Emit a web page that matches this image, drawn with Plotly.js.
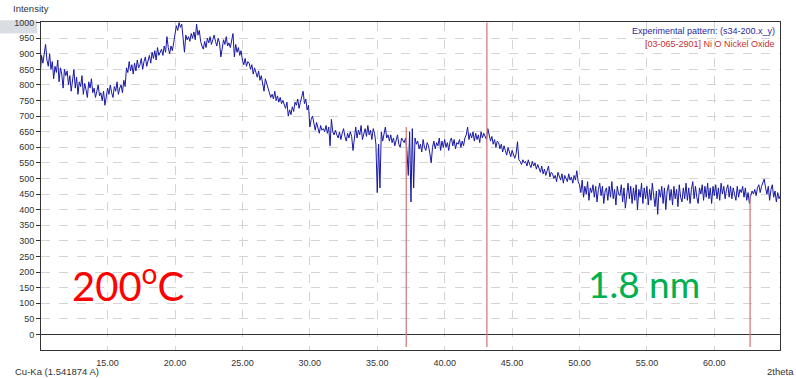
<!DOCTYPE html>
<html>
<head>
<meta charset="utf-8">
<script src="https://cdn.plot.ly/plotly-3.0.1.min.js"></script>
<style>html,body{margin:0;padding:0;background:#fff;}#chart{width:796px;height:378px;}</style>
</head>
<body>
<div id="chart"></div>
<script>
// 2theta sampling of the measured pattern (degrees)
const twoThetaStart = 10.0;
const twoThetaStep = 0.1;
// Measured intensity, one row per degree (10.0 ... 64.9), then 65.0
const intensity = [
  830, 895, 870, 905, 930, 880, 860, 900, 850, 875,
  820, 860, 840, 880, 810, 855, 835, 790, 850, 830,
  845, 800, 830, 780, 815, 850, 790, 825, 770, 810,
  795, 830, 770, 805, 785, 760, 810, 790, 820, 775,
  790, 760, 780, 800, 765, 775, 750, 780, 735, 760,
  790, 770, 800, 775, 760, 795, 780, 810, 770, 790,
  800, 775, 815, 795, 855, 840, 875, 845, 865, 835,
  870, 845, 880, 855, 865, 885, 850, 875, 890, 860,
  875, 895, 870, 905, 885, 910, 880, 920, 895, 905,
  915, 895, 925, 905, 955, 920, 900, 925, 910, 935,
  965, 990, 975, 1000, 985, 995, 950, 905, 960, 945,
  955, 940, 965, 950, 970, 945, 995, 960, 975, 940,
  925, 915, 940, 920, 950, 935, 955, 930, 945, 960,
  940, 925, 950, 935, 890, 920, 945, 930, 955, 925,
  935, 920, 945, 965, 890, 930, 905, 920, 895, 910,
  880, 865, 885, 860, 875, 870, 850, 865, 835, 855,
  840, 825, 845, 815, 830, 810, 780, 820, 800, 790,
  775, 760, 770, 755, 780, 750, 765, 745, 760, 740,
  750, 735, 725, 745, 700, 720, 705, 730, 715, 745,
  735, 755, 725, 745, 760, 780, 740, 755, 720, 735,
  665, 690, 700, 670, 655, 680, 660, 645, 670, 655,
  660, 650, 670, 645, 665, 605, 690, 650, 640, 655,
  640, 630, 650, 625, 645, 660, 635, 620, 645, 630,
  650, 635, 590, 640, 665, 630, 655, 640, 670, 625,
  645, 660, 635, 670, 640, 655, 625, 660, 645, 610,
  455, 610, 470, 650, 620, 645, 665, 630, 640, 620,
  640, 615, 630, 605, 625, 640, 610, 600, 630, 620,
  615, 630, 590, 510, 650, 425, 660, 470, 630, 610,
  620, 595, 610, 585, 625, 600, 590, 615, 605, 580,
  550, 600, 620, 595, 615, 605, 630, 590, 620, 600,
  625, 600, 615, 590, 620, 630, 605, 625, 595, 615,
  610, 625, 600, 620, 605, 630, 640, 665, 625, 645,
  630, 650, 620, 645, 625, 640, 615, 650, 630, 645,
  635, 625, 660, 640, 620, 635, 610, 625, 600, 620,
  615, 595, 610, 585, 605, 590, 575, 600, 580, 570,
  590, 575, 565, 580, 618, 560, 555, 545, 560, 550,
  555, 540, 560, 545, 535, 555, 540, 550, 530, 545,
  535, 520, 540, 515, 530, 510, 525, 540, 505, 520,
  515, 500, 510, 490, 520, 505, 495, 515, 485, 510,
  500, 490, 515, 495, 505, 485, 510, 495, 525, 490,
  480, 455, 495, 440, 475, 450, 490, 430, 470, 455,
  480, 440, 475, 425, 465, 485, 445, 475, 420, 460,
  470, 430, 475, 440, 490, 435, 465, 415, 475, 450,
  445, 480, 425, 470, 405, 460, 485, 435, 475, 420,
  470, 430, 480, 400, 465, 440, 485, 420, 470, 435,
  475, 415, 465, 430, 485, 445, 410, 460, 385, 465,
  440, 475, 420, 470, 400, 460, 480, 430, 465, 415,
  475, 435, 465, 410, 480, 440, 425, 470, 435, 485,
  430, 470, 420, 465, 490, 435, 475, 440, 420, 470,
  450, 480, 430, 475, 440, 485, 435, 470, 420, 475,
  445, 480, 435, 470, 430, 485, 450, 475, 435, 465,
  480, 440, 475, 435, 470, 450, 430, 475, 440, 465,
  455, 475, 440, 470, 430, 455, 420, 445, 460, 450,
  465, 445, 470, 480, 455, 475, 485, 498, 470, 450,
  475, 430, 465, 480, 440, 460, 425, 455, 435, 445,
  440
];
// Reference pattern [03-065-2901] NiO stick positions and heights
const refPositions = [37.15, 43.13, 62.65];
const refHeights = [665, 1000, 445];
const refBase = -40;
const yTicks = [0,50,100,150,200,250,300,350,400,450,500,550,600,650,700,750,800,850,900,950,1000];
const xTicks = [15,20,25,30,35,40,45,50,55,60];

const twoTheta = intensity.map((_, i) => +(twoThetaStart + i * twoThetaStep).toFixed(2));

const traces = [{
  x: twoTheta, y: intensity, type: 'scatter', mode: 'lines',
  line: {color: 'rgb(24,24,165)', width: 1}, showlegend: false, hoverinfo: 'skip'
}];
refPositions.forEach((p, i) => {
  traces.push({
    x: [p, p], y: [refBase, refHeights[i]], type: 'scatter', mode: 'lines',
    line: {color: 'rgb(210,125,125)', width: 1.3}, showlegend: false, hoverinfo: 'skip'
  });
});

const F = 'Liberation Sans, Arial, sans-serif';
const layout = {
  width: 796, height: 378,
  margin: {l: 41, r: 16, t: 22, b: 28, pad: 0},
  paper_bgcolor: '#fff', plot_bgcolor: '#fff',
  showlegend: false,
  xaxis: {
    range: [10.06, 64.87], tickvals: xTicks, ticktext: xTicks.map(v => v.toFixed(2)),
    showgrid: true, gridcolor: '#d4d4d4', griddash: 'dash', gridwidth: 1,
    zeroline: false, showline: true, linecolor: '#333', linewidth: 1, mirror: true,
    ticks: '', tickfont: {family: F, size: 9, color: '#333'}, ticklabelstandoff: 4
  },
  yaxis: {
    range: [-50, 1002], tickvals: yTicks,
    showgrid: true, gridcolor: '#d4d4d4', griddash: 'dash', gridwidth: 1,
    zeroline: true, zerolinecolor: '#333', zerolinewidth: 1,
    showline: true, linecolor: '#333', linewidth: 1, mirror: true,
    ticks: 'outside', ticklen: 4, tickcolor: '#333',
    tickfont: {family: F, size: 9, color: '#333'}
  },
  shapes: [{
    type: 'rect', xref: 'paper', yref: 'paper', x0: -0.056, x1: -0.005, y0: 0.965, y1: 1.005,
    fillcolor: 'rgba(185,195,205,0.55)', line: {width: 0}, layer: 'below'
  }],
  annotations: [
    {xref: 'x', yref: 'y', x: 64.67, y: 973, text: 'Experimental pattern: (s34-200.x_y)', showarrow: false,
     xanchor: 'right', yanchor: 'middle', font: {family: F, size: 9, color: '#2a2aa0'}},
    {xref: 'x', yref: 'y', x: 64.67, y: 931, text: '[03-065-2901] Ni O Nickel Oxide', showarrow: false,
     xanchor: 'right', yanchor: 'middle', font: {family: F, size: 9, color: '#c83030'}},
    {xref: 'x', yref: 'y', x: 16.48, y: 164, text: '200<sup>o</sup>C', showarrow: false,
     xanchor: 'center', yanchor: 'middle', font: {family: 'Lato, Liberation Sans, sans-serif', size: 40, color: '#ff0000'}},
    {xref: 'x', yref: 'y', x: 54.8, y: 164, text: '1.8 nm', showarrow: false,
     xanchor: 'center', yanchor: 'middle', font: {family: 'Lato, Liberation Sans, sans-serif', size: 37, color: '#00b050'}},
    {xref: 'paper', yref: 'paper', x: -0.0405, y: 1.04, text: 'Intensity', showarrow: false,
     xanchor: 'left', yanchor: 'middle', font: {family: F, size: 9.5, color: '#333'}},
    {xref: 'paper', yref: 'paper', x: -0.038, y: -0.066, text: 'Cu-Ka (1.541874 A)', showarrow: false,
     xanchor: 'left', yanchor: 'middle', font: {family: F, size: 9.5, color: '#333'}},
    {xref: 'paper', yref: 'paper', x: 1.0216, y: -0.066, text: '2theta', showarrow: false,
     xanchor: 'right', yanchor: 'middle', font: {family: F, size: 9.5, color: '#333'}}
  ]
};
Plotly.newPlot('chart', traces, layout, {staticPlot: true, displayModeBar: false});
</script>
</body>
</html>
